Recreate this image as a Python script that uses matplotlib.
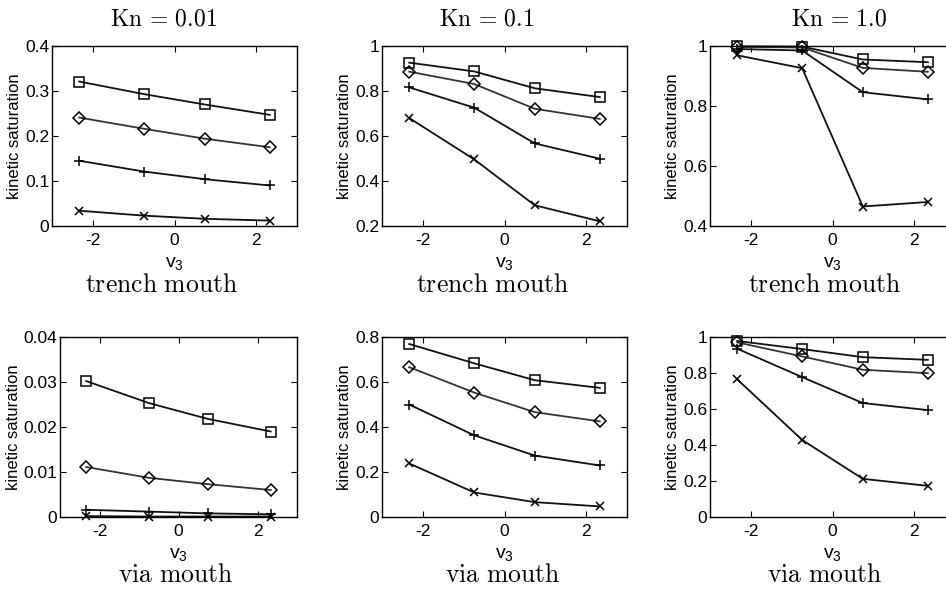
import matplotlib
matplotlib.use("Agg")
import matplotlib.pyplot as plt
from matplotlib.ticker import FuncFormatter

plt.rcParams["font.family"] = ["Liberation Sans", "DejaVu Sans"]
plt.rcParams["mathtext.fontset"] = "custom"
plt.rcParams["mathtext.rm"] = "Liberation Sans"
plt.rcParams["mathtext.it"] = "Liberation Sans:italic"
plt.rcParams["axes.unicode_minus"] = False

# velocity nodes
v3 = [-2.334, -0.742, 0.742, 2.334]

# trench mouth, Kn = 0.01
tr001_sq = [0.321, 0.293, 0.270, 0.247]
tr001_dm = [0.241, 0.216, 0.194, 0.175]
tr001_pl = [0.145, 0.121, 0.104, 0.090]
tr001_x = [0.034, 0.023, 0.016, 0.012]

# trench mouth, Kn = 0.1
tr01_sq = [0.926, 0.887, 0.812, 0.773]
tr01_dm = [0.886, 0.831, 0.721, 0.676]
tr01_pl = [0.816, 0.726, 0.567, 0.499]
tr01_x = [0.680, 0.496, 0.292, 0.221]

# trench mouth, Kn = 1.0
tr1_sq = [0.999, 0.998, 0.955, 0.946]
tr1_dm = [0.997, 0.995, 0.927, 0.914]
tr1_pl = [0.990, 0.985, 0.846, 0.822]
tr1_x = [0.969, 0.926, 0.465, 0.480]

# via mouth, Kn = 0.01
via001_sq = [0.0302, 0.0253, 0.0218, 0.0190]
via001_dm = [0.0111, 0.0087, 0.0073, 0.0060]
via001_pl = [0.0016, 0.0012, 0.0008, 0.0006]
via001_x = [0.0002, 0.0001, 0.0001, 0.0001]

# via mouth, Kn = 0.1
via01_sq = [0.769, 0.683, 0.608, 0.574]
via01_dm = [0.666, 0.553, 0.466, 0.425]
via01_pl = [0.500, 0.363, 0.273, 0.229]
via01_x = [0.238, 0.109, 0.066, 0.047]

# via mouth, Kn = 1.0
via1_sq = [0.978, 0.933, 0.888, 0.873]
via1_dm = [0.970, 0.892, 0.818, 0.799]
via1_pl = [0.935, 0.777, 0.633, 0.594]
via1_x = [0.765, 0.428, 0.212, 0.173]

kn_titles = [r"$\mathrm{Kn}\,=\,0.01$", r"$\mathrm{Kn}\,=\,0.1$", r"$\mathrm{Kn}\,=\,1.0$"]
row_titles = [r"$\mathrm{trench\ mouth}$", r"$\mathrm{via\ mouth}$"]

panels = [
    [(tr001_sq, tr001_dm, tr001_pl, tr001_x), (tr01_sq, tr01_dm, tr01_pl, tr01_x), (tr1_sq, tr1_dm, tr1_pl, tr1_x)],
    [(via001_sq, via001_dm, via001_pl, via001_x), (via01_sq, via01_dm, via01_pl, via01_x), (via1_sq, via1_dm, via1_pl, via1_x)],
]
ylims = [[(0, 0.4), (0.2, 1), (0.4, 1)], [(0, 0.04), (0, 0.8), (0, 1)]]
yticks = [
    [[0, 0.1, 0.2, 0.3, 0.4], [0.2, 0.4, 0.6, 0.8, 1], [0.4, 0.6, 0.8, 1]],
    [[0, 0.01, 0.02, 0.03, 0.04], [0, 0.2, 0.4, 0.6, 0.8], [0, 0.2, 0.4, 0.6, 0.8, 1]],
]

W, H = 946, 590
fig = plt.figure(figsize=(W / 100, H / 100), dpi=100)

# axes boxes in pixels: left, right, top, bottom
boxes = [
    [(52, 297, 46, 226), (382, 627, 46, 226), (710, 955, 46, 226)],
    [(60, 297, 337, 517), (382, 627, 337, 517), (710, 955, 337, 517)],
]
kn_x = [164, 487, 839]
row_x = [[162, 493, 825], [176, 503, 825]]
row_y = [285, 575]

fmt = FuncFormatter(lambda v, p: "%g" % round(v, 4))
markers = ["s", "D", "+", "x"]
sizes = [6.5, 6, 7.5, 5.5]
colors = ["#111111", "#333333", "#111111", "#111111"]

for r in range(2):
    for c in range(3):
        l, rt, t, b = boxes[r][c]
        ax = fig.add_axes([l / W, 1 - b / H, (rt - l) / W, (b - t) / H])
        for ys, m, ms, col in zip(panels[r][c], markers, sizes, colors):
            ax.plot(v3, ys, color=col, lw=1.3, marker=m, ms=ms,
                    mfc="none", mec="black", mew=1.1, clip_on=False)
        ax.set_xlim(-3, 3)
        ax.set_ylim(*ylims[r][c])
        ax.set_xticks([-2, 0, 2])
        ax.set_yticks(yticks[r][c])
        ax.yaxis.set_major_formatter(fmt)
        ax.tick_params(direction="in", top=True, right=True, length=4,
                       labelsize=12.5, width=0.8, pad=2)
        ax.tick_params(axis="x", pad=5)
        for s in ax.spines.values():
            s.set_linewidth(1.0)
        ax.set_ylabel("kinetic saturation", fontsize=12, labelpad=2)
        ax.set_xlabel(r"v$_3$", fontsize=14, labelpad=5)
        fig.text(row_x[r][c] / W, 1 - row_y[r] / H, row_titles[r], ha="center",
                 va="center", fontsize=18.5, math_fontfamily="cm")
        if r == 0:
            fig.text(kn_x[c] / W, 1 - 19 / H, kn_titles[c], ha="center",
                     va="center", fontsize=17, math_fontfamily="cm")

fig.savefig("out.png", dpi=100)
